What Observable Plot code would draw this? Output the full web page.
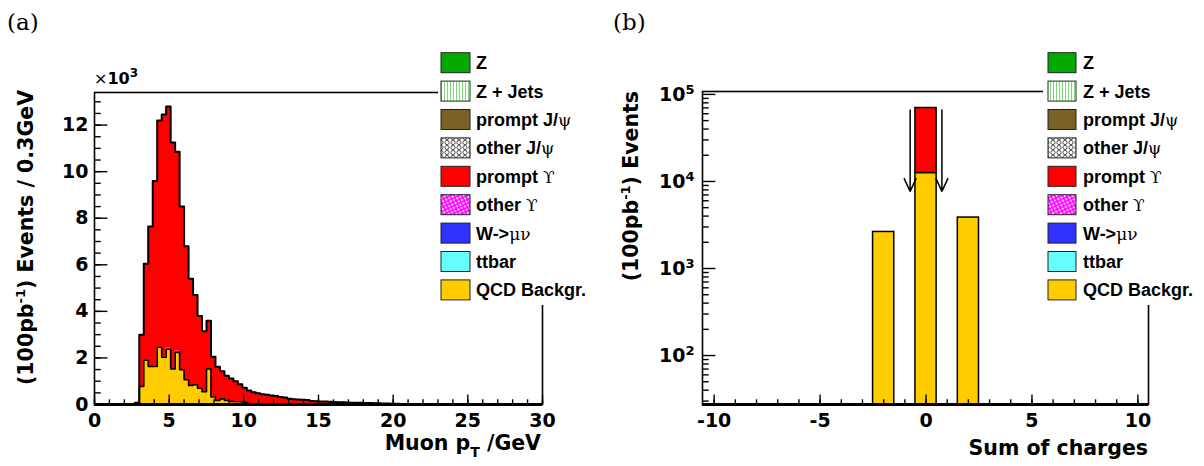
<!DOCTYPE html>
<html><head><meta charset="utf-8">
<script src="https://cdn.jsdelivr.net/npm/d3@7"></script>
<script src="https://cdn.jsdelivr.net/npm/@observablehq/plot@0.6"></script>
<style>
body{margin:0;background:#fff;}
#wrap{position:relative;width:1204px;height:466px;overflow:hidden;background:#fff;}
#wrap > svg{position:absolute;top:0;}
</style></head><body><div id="wrap"></div>
<script>
// ---------- Panel (a): muon pT, bins of 0.3 GeV ----------
const binW = 0.3;
const ptLow = [2.7,3.0,3.3,3.6,3.9,4.2,4.5,4.8,5.1,5.4,5.7,6.0,6.3,6.6,6.9,7.2,7.5,7.8,8.1,8.4,8.7,9.0,9.3,9.6,9.9,10.2,10.5,10.8,11.1,11.4,11.7,12.0,12.3,12.6,12.9,13.2,13.5,13.8,14.1,14.4,14.7,15.0,15.3,15.6,15.9,16.2,16.5,16.8,17.1,17.4,17.7,18.0,18.3,18.6,18.9,19.2,19.5,19.8,20.1,20.4,20.7,21.0,21.3,21.6,21.9];
const qcdPt = [50,780,1900,1630,1630,2460,2030,2370,1530,2240,1490,1060,820,850,700,550,1530,320,170,240,170,130,120,120,100,40,30,20,20,10,10,0,0,0,0,0,0,0,0,0,0,0,0,0,0,0,0,0,0,0,0,0,0,0,0,0,0,0,0,0,0,0,0,0,0];
const otherUpsPt = [0,0,0,0,0,0,0,60,0,60,0,0,0,0,0,0,0,0,0,0,0,0,0,0,0,0,0,0,0,0,0,0,0,0,0,0,0,0,0,0,0,0,0,0,0,0,0,0,0,0,0,0,0,0,0,0,0,0,0,0,0,0,0,0,0];
const promptUpsPt = [30,2220,4150,6020,7970,9740,10420,10370,9720,8550,7010,5740,4580,3850,3100,2600,2070,1730,1450,1190,1070,990,880,750,620,560,500,460,420,410,380,360,320,300,250,230,210,200,190,150,140,130,130,120,110,100,100,90,70,70,70,60,60,50,50,40,40,30,30,20,20,20,10,10,10];
const ptTicks = [0,5,10,15,20,25,30];
const ptTickLabels = ["0","5","10","15","20","25","30"];
const evTicks = [0,2000,4000,6000,8000,10000,12000];
const evTickLabels = ["0","2","4","6","8","10","12"];

// ---------- Panel (b): sum of charges ----------
const chargeBins = [-2,0,2];
const qcdCharge = [2630,12500,3850];
const promptUpsCharge = [0,57300,0];
const chargeTicks = [-10,-5,0,5,10];
const chargeTickLabels = ["-10","-5","0","5","10"];
const logTicks = [100,1000,10000,100000];
const logTickExp = ["2","3","4","5"];
const arrowX = [-0.75,0.75];
const arrowTop = 66000, arrowBottom = 7700;

// ---------- Legend ----------
const legendNames = ["Z","Z + Jets","prompt J/","other J/","prompt ","other ","W->","ttbar","QCD Backgr."];
const legendGreek = ["","","ψ","ψ","ϒ","ϒ","μν","",""];
const legendFills = ["#00aa00","url(#pZJ)","#7a6128","url(#pJP)","#ff0000","url(#pUP)","#3030ff","#66ffff","#ffcc00"];

const W = 602, H = 466;
const baseStyle = {fontFamily:"DejaVu Sans", fontWeight:"bold", fontSize:"19px", color:"black", background:"transparent", overflow:"visible"};

// build step rows
const rows = [];
ptLow.forEach((x0,i)=>{
  const q = qcdPt[i], qo = q + otherUpsPt[i], t = qo + promptUpsPt[i];
  rows.push({x:x0, q, qo, t});
  rows.push({x:x0+binW, q, qo, t});
});

const aML=94, aMR=60, aMT=92, aMB=62;
const aFW = W-aML-aMR, aFH = H-aMT-aMB;
const left = Plot.plot({
  width:W, height:H, marginLeft:aML, marginRight:aMR, marginTop:aMT, marginBottom:aMB,
  style: baseStyle,
  x:{domain:[0,30]},
  y:{domain:[0,13400]},
  marks:[
    Plot.areaY(rows,{x:"x", y1:0, y2:"q", fill:"#ffcc00"}),
    Plot.areaY(rows,{x:"x", y1:"q", y2:"qo", fill:"#ff00ff"}),
    Plot.areaY(rows,{x:"x", y1:"qo", y2:"t", fill:"#ff0000"}),
    Plot.line(rows,{x:"x", y:"q", stroke:"black", strokeWidth:1.6}),
    Plot.line(rows,{x:"x", y:"t", stroke:"black", strokeWidth:2}),
    Plot.frame({stroke:"black", strokeWidth:1.6}),
    Plot.ruleY([0],{stroke:"black", strokeWidth:3}),
    Plot.tickX(d3.range(0,31,1),{x:d=>d, insetTop:aFH-4.7, stroke:"black", strokeWidth:1.4}),
    Plot.tickX(ptTicks,{x:d=>d, insetTop:aFH-9.4, stroke:"black", strokeWidth:1.4}),
    Plot.tickY(d3.range(0,13401,500),{y:d=>d, insetRight:aFW-6.7, stroke:"black", strokeWidth:1.4}),
    Plot.tickY(evTicks,{y:d=>d, insetRight:aFW-13.4, stroke:"black", strokeWidth:1.4}),
    Plot.axisX({ticks:ptTicks, tickSize:0, tickPadding:9, tickFormat:(d,i)=>ptTickLabels[ptTicks.indexOf(d)], label:null}),
    Plot.axisY({ticks:evTicks, tickSize:0, tickPadding:6, tickFormat:d=>evTickLabels[evTicks.indexOf(d)], label:null})
  ]
});
left.style.left = "0px";

const bML=100, bMR=56, bMT=91, bMB=62;
const bFW = W-bML-bMR, bFH = H-bMT-bMB;
const crows = chargeBins.map((c,i)=>({x1:c-0.5, x2:c+0.5, q:qcdCharge[i], p:promptUpsCharge[i]}));
const logMinor = [];
for (const dec of [10,100,1000,10000]) for (let k=2;k<=9;k++) if (dec*k>27.4) logMinor.push(dec*k);
const right = Plot.plot({
  width:W, height:H, marginLeft:bML, marginRight:bMR, marginTop:bMT, marginBottom:bMB,
  style: baseStyle,
  x:{domain:[-10.55,10.5]},
  y:{type:"log", domain:[27.4,108000]},
  marks:[
    Plot.rectY(crows,{x1:"x1", x2:"x2", y1:1, y2:"q", fill:"#ffcc00", stroke:"black", strokeWidth:1.5, clip:true}),
    Plot.rectY(crows.filter(d=>d.p>0),{x1:"x1", x2:"x2", y1:"q", y2:d=>d.q+d.p, fill:"#ff0000", stroke:"black", strokeWidth:1.5}),
    Plot.arrow(arrowX,{x1:d=>d, x2:d=>d, y1:()=>arrowTop, y2:()=>arrowBottom, stroke:"black", strokeWidth:1.5, headLength:14, headAngle:50}),
    Plot.frame({stroke:"black", strokeWidth:1.6}),
    Plot.ruleY([27.4],{stroke:"black", strokeWidth:3}),
    Plot.tickX(d3.range(-10,11,1),{x:d=>d, insetTop:bFH-4.7, stroke:"black", strokeWidth:1.4}),
    Plot.tickX(chargeTicks,{x:d=>d, insetTop:bFH-9.4, stroke:"black", strokeWidth:1.4}),
    Plot.tickY(logMinor,{y:d=>d, insetRight:bFW-6.7, stroke:"black", strokeWidth:1.4}),
    Plot.tickY(logTicks,{y:d=>d, insetRight:bFW-13.4, stroke:"black", strokeWidth:1.4}),
    Plot.axisX({ticks:chargeTicks, tickSize:0, tickPadding:9, tickFormat:d=>chargeTickLabels[chargeTicks.indexOf(d)], label:null}),
    Plot.axisY({ticks:logTicks, tickSize:0, tickPadding:8, tickFormat:d=>"10^"+logTickExp[logTicks.indexOf(d)], label:null})
  ]
});
right.style.left = "602px";
const wrap = document.getElementById("wrap");
wrap.appendChild(left);
wrap.appendChild(right);

// superscripts on log tick labels
const svgns = "http://www.w3.org/2000/svg";
right.querySelectorAll("text").forEach(t=>{
  const m = t.textContent.match(/^10\^(\d)$/);
  if (m) {
    t.textContent = "10";
    const ts = document.createElementNS(svgns,"tspan");
    ts.setAttribute("dy","-0.5em");
    ts.setAttribute("font-size","13");
    ts.textContent = m[1];
    t.appendChild(ts);
  }
});

// ---------- Overlay: titles and legends ----------
const ov = d3.select(wrap).append("svg").attr("width",1204).attr("height",466)
  .style("left","0px").style("pointer-events","none");
const defs = ov.append("defs");
const pz = defs.append("pattern").attr("id","pZJ").attr("patternUnits","userSpaceOnUse").attr("width",3).attr("height",6);
pz.append("rect").attr("width",3).attr("height",6).attr("fill","#fff");
pz.append("rect").attr("width",1).attr("height",6).attr("fill","#77dd77");
const pj = defs.append("pattern").attr("id","pJP").attr("patternUnits","userSpaceOnUse").attr("width",6).attr("height",5);
pj.append("rect").attr("width",6).attr("height",5).attr("fill","#fff");
pj.append("circle").attr("cx",3).attr("cy",2.5).attr("r",2.1).attr("fill","none").attr("stroke","#222").attr("stroke-width",0.8);
const pu = defs.append("pattern").attr("id","pUP").attr("patternUnits","userSpaceOnUse").attr("width",5).attr("height",5).attr("patternTransform","rotate(20)");
pu.append("rect").attr("width",5).attr("height",5).attr("fill","#fff");
pu.append("path").attr("d","M0,0L5,5M0,5L5,0").attr("stroke","#ff00ff").attr("stroke-width",1.6);

function legend(bgX, boxX, boxW, textX) {
  ov.append("rect").attr("x",bgX).attr("y",40).attr("width",170).attr("height",265).attr("fill","#fff");
  legendNames.forEach((n,i)=>{
    const cy = 62.7 + 28.4*i;
    ov.append("rect").attr("x",boxX).attr("y",cy-10).attr("width",boxW).attr("height",20)
      .attr("fill",legendFills[i]).attr("stroke","#222").attr("stroke-width",1);
    const t = ov.append("text").attr("x",textX).attr("y",cy+6.5)
      .attr("font-family","Liberation Sans").attr("font-weight","bold").attr("font-size",18).text(n);
    if (legendGreek[i]) t.append("tspan").attr("font-family","DejaVu Serif").attr("font-weight","normal").attr("font-size",17).text(legendGreek[i]);
  });
}
legend(438, 441, 29, 476);
legend(1043, 1048, 28, 1083);

// panel labels
ov.append("text").attr("x",7).attr("y",30).attr("font-family","DejaVu Serif").attr("font-size",23).text("(a)");
ov.append("text").attr("x",613).attr("y",30).attr("font-family","DejaVu Serif").attr("font-size",23).text("(b)");

// x10^3
const e3 = ov.append("text").attr("x",94).attr("y",84).attr("font-family","DejaVu Sans").attr("font-weight","bold").attr("font-size",16);
e3.append("tspan").attr("font-weight","normal").text("×");
e3.append("tspan").text("10");
e3.append("tspan").attr("dy",-7).attr("font-size",12).text("3");

// axis titles
const tf = {fam:"DejaVu Sans", size:20.5};
function yTitle(x, y, tail) {
  const t = ov.append("text").attr("transform",`translate(${x},${y}) rotate(-90)`).attr("text-anchor","end")
    .attr("font-family",tf.fam).attr("font-weight","bold").attr("font-size",tf.size);
  t.append("tspan").text("(100pb");
  t.append("tspan").attr("dy",-8).attr("font-size",13).text("-1");
  t.append("tspan").attr("dy",8).text(") " + tail);
}
yTitle(33, 90, "Events / 0.3GeV");
yTitle(638, 91, "Events");

const xt = ov.append("text").attr("x",541).attr("y",450).attr("text-anchor","end")
  .attr("font-family",tf.fam).attr("font-weight","bold").attr("font-size",tf.size);
xt.append("tspan").text("Muon p");
xt.append("tspan").attr("dy",7).attr("font-size",14).text("T");
xt.append("tspan").attr("dy",-7).text(" /GeV");
ov.append("text").attr("x",1148).attr("y",455).attr("text-anchor","end")
  .attr("font-family",tf.fam).attr("font-weight","bold").attr("font-size",tf.size).text("Sum of charges");
</script></body></html>
